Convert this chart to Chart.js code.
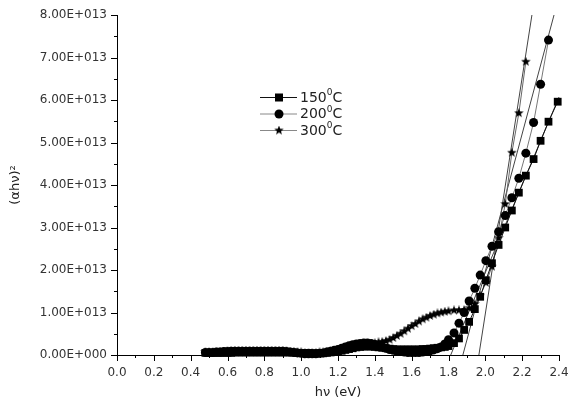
<!DOCTYPE html>
<html>
<head>
<meta charset="utf-8">
<script src="https://cdn.jsdelivr.net/npm/chart.js@4.4.1/dist/chart.umd.min.js"></script>
<style>
html, body { margin: 0; padding: 0; background: #fff; }
#wrap { width: 569px; height: 408px; }
</style>
</head>
<body>
<div id="wrap"><canvas id="chart" width="569" height="408"></canvas></div>
<script>
// photon energy hv (eV), shared by the three films
const energy = [
  0.48, 0.50, 0.52, 0.54, 0.56, 0.58, 0.60, 0.62, 0.64, 0.66,
  0.68, 0.70, 0.72, 0.74, 0.76, 0.78, 0.80, 0.82, 0.84, 0.86,
  0.88, 0.90, 0.92, 0.94, 0.96, 0.98, 1.00, 1.02, 1.04, 1.06,
  1.08, 1.10, 1.12, 1.14, 1.16, 1.18, 1.20, 1.22, 1.24, 1.26,
  1.28, 1.30, 1.32, 1.34, 1.36, 1.38, 1.40, 1.42, 1.44, 1.46,
  1.48, 1.50, 1.52, 1.54, 1.56, 1.58, 1.60, 1.62, 1.64, 1.66,
  1.68, 1.70, 1.72, 1.74, 1.76, 1.78,
  1.80, 1.83, 1.857, 1.885, 1.912, 1.943, 1.972, 2.003, 2.036, 2.072,
  2.108, 2.144, 2.182, 2.22, 2.262, 2.30, 2.343, 2.393
];

// (alpha h nu)^2 in units of 1E+013
const alpha150 = [
  0.05, 0.05, 0.05, 0.05, 0.05, 0.05, 0.05, 0.05, 0.06, 0.06,
  0.06, 0.06, 0.06, 0.06, 0.06, 0.06, 0.06, 0.06, 0.06, 0.06,
  0.06, 0.06, 0.06, 0.06, 0.06, 0.05, 0.05, 0.05, 0.05, 0.04,
  0.04, 0.04, 0.04, 0.05, 0.06, 0.07, 0.08, 0.10, 0.12, 0.14,
  0.16, 0.18, 0.19, 0.20, 0.20, 0.20, 0.19, 0.18, 0.17, 0.16,
  0.15, 0.14, 0.13, 0.13, 0.13, 0.13, 0.13, 0.13, 0.13, 0.14,
  0.14, 0.15, 0.16, 0.17, 0.18, 0.19,
  0.21, 0.28, 0.39, 0.59, 0.78, 1.08, 1.37, 1.76, 2.16, 2.59,
  3.00, 3.40, 3.82, 4.22, 4.61, 5.04, 5.49, 5.96
];
const alpha200 = [
  0.06, 0.06, 0.06, 0.07, 0.07, 0.08, 0.08, 0.09, 0.09, 0.09,
  0.09, 0.09, 0.09, 0.09, 0.09, 0.09, 0.09, 0.09, 0.09, 0.09,
  0.09, 0.09, 0.08, 0.07, 0.06, 0.05, 0.04, 0.03, 0.03, 0.03,
  0.03, 0.04, 0.05, 0.07, 0.09, 0.11, 0.13, 0.16, 0.19, 0.22,
  0.24, 0.26, 0.27, 0.28, 0.28, 0.27, 0.25, 0.22, 0.19, 0.16,
  0.13, 0.11, 0.09, 0.08, 0.07, 0.06, 0.06, 0.06, 0.06, 0.07,
  0.08, 0.10, 0.12, 0.15, 0.19, 0.26,
  0.36, 0.52, 0.75, 1.00, 1.27, 1.57, 1.88, 2.22, 2.56, 2.90,
  3.28, 3.70, 4.16, 4.75, 5.47, 6.37, 7.41, null
];
const alpha300 = [
  0.07, 0.07, 0.07, 0.07, 0.08, 0.08, 0.09, 0.09, 0.10, 0.10,
  0.10, 0.10, 0.10, 0.10, 0.10, 0.10, 0.10, 0.10, 0.10, 0.10,
  0.10, 0.10, 0.09, 0.08, 0.08, 0.07, 0.06, 0.05, 0.05, 0.05,
  0.05, 0.06, 0.07, 0.08, 0.09, 0.10, 0.11, 0.12, 0.13, 0.15,
  0.16, 0.18, 0.20, 0.22, 0.24, 0.26, 0.28, 0.30, 0.31, 0.33,
  0.36, 0.40, 0.45, 0.50, 0.56, 0.62, 0.68, 0.73, 0.79, 0.84,
  0.88, 0.92, 0.95, 0.98, 1.00, 1.02,
  1.03, 1.05, 1.05, 1.06, 1.10, 1.20, 1.40, 1.70, 2.08, 2.75,
  3.55, 4.76, 5.69, 6.90, null, null, null, null
];

// straight-line extrapolations (Tauc fits): [start, end]
const fitE150 = [1.812, 2.4];
const fitA150 = [0, 6.07];
const fitE200 = [1.878, 2.373];
const fitA200 = [0, 8];
const fitE300 = [1.965, 2.253];
const fitA300 = [0, 8];

const seriesLabels = ['150', '200', '300'];

const FONT = '"DejaVu Sans", Verdana, sans-serif';

// filled star marker
function makeStar(size) {
  const c = document.createElement('canvas');
  c.width = size; c.height = size;
  const g = c.getContext('2d');
  const cx = size / 2, cy = size / 2, ro = size / 2, ri = ro * 0.42;
  g.beginPath();
  for (let i = 0; i < 10; i++) {
    const r = i % 2 ? ri : ro;
    const a = -Math.PI / 2 + i * Math.PI / 5;
    g.lineTo(cx + r * Math.cos(a), cy + r * Math.sin(a));
  }
  g.closePath();
  g.fillStyle = '#000';
  g.fill();
  return c;
}
const starImg = makeStar(10);

const toPoints = (xs, ys) => xs.map((x, i) => ({ x: x, y: ys[i] }));

function series(label, vals, style, radius, lineColor) {
  return {
    label: label,
    data: toPoints(energy, vals),
    showLine: true,
    borderColor: lineColor,
    borderWidth: 1,
    pointStyle: style,
    pointRadius: radius,
    pointBackgroundColor: '#000',
    pointBorderColor: '#000',
    pointBorderWidth: 0,
    clip: false
  };
}
function fitLine(xs, ys) {
  return {
    label: '',
    data: toPoints(xs, ys),
    showLine: true,
    borderColor: '#444',
    borderWidth: 1,
    pointRadius: 0,
    clip: false
  };
}

// ticks with minor marks between majors
const axisTicks = {
  id: 'axisTicks',
  afterDraw(chart) {
    const { ctx, scales: { x, y } } = chart;
    ctx.save();
    ctx.strokeStyle = '#000';
    ctx.lineWidth = 1;
    ctx.beginPath();
    const xv = x.ticks.map(t => t.value);
    xv.forEach((v, i) => {
      const px = Math.round(x.getPixelForValue(v)) + 0.5;
      ctx.moveTo(px, x.top); ctx.lineTo(px, x.top + 6);
      if (i < xv.length - 1) {
        const mx = Math.round(x.getPixelForValue((v + xv[i + 1]) / 2)) + 0.5;
        ctx.moveTo(mx, x.top); ctx.lineTo(mx, x.top + 3);
      }
    });
    const yv = y.ticks.map(t => t.value);
    yv.forEach((v, i) => {
      const py = Math.round(y.getPixelForValue(v)) + 0.5;
      ctx.moveTo(y.right, py); ctx.lineTo(y.right - 6, py);
      if (i < yv.length - 1) {
        const my = Math.round(y.getPixelForValue((v + yv[i + 1]) / 2)) + 0.5;
        ctx.moveTo(y.right, my); ctx.lineTo(y.right - 3, my);
      }
    });
    ctx.stroke();
    ctx.restore();
  }
};

// legend drawn inside the plot
const innerLegend = {
  id: 'innerLegend',
  afterDraw(chart) {
    const ctx = chart.ctx;
    ctx.save();
    const styles = ['rect', 'circle', 'star'];
    const lineCols = ['#111', '#888', '#888'];
    seriesLabels.forEach((lab, i) => {
      const y = 97 + i * 16.5;
      ctx.strokeStyle = lineCols[i];
      ctx.lineWidth = 1;
      ctx.beginPath();
      ctx.moveTo(260, y + 0.5); ctx.lineTo(297, y + 0.5);
      ctx.stroke();
      ctx.fillStyle = '#000';
      const mx = 279;
      if (styles[i] === 'rect') ctx.fillRect(mx - 4, y - 3.5, 8, 8);
      else if (styles[i] === 'circle') { ctx.beginPath(); ctx.arc(mx, y + 0.5, 4.5, 0, Math.PI * 2); ctx.fill(); }
      else ctx.drawImage(starImg, mx - 5, y - 4.5);
      ctx.font = '14px ' + FONT;
      ctx.fillStyle = '#222';
      ctx.textBaseline = 'middle';
      let tx = 300;
      ctx.fillText(lab, tx, y + 1);
      tx += ctx.measureText(lab).width;
      ctx.font = '9px ' + FONT;
      ctx.fillText('0', tx, y - 4);
      tx += ctx.measureText('0').width;
      ctx.font = '14px ' + FONT;
      ctx.fillText('C', tx, y + 1);
    });
    ctx.restore();
  }
};

const tickFont = { family: FONT, size: 12 };

new Chart(document.getElementById('chart'), {
  type: 'scatter',
  data: {
    datasets: [
      series('150', alpha150, 'rect', 5.5, '#111'),
      series('200', alpha200, 'circle', 4.5, '#777'),
      series('300', alpha300, starImg, 5, '#666'),
      fitLine(fitE150, fitA150),
      fitLine(fitE200, fitA200),
      fitLine(fitE300, fitA300)
    ]
  },
  options: {
    responsive: false,
    animation: false,
    layout: { padding: { left: 0, right: 10, top: 15, bottom: 0 } },
    plugins: { legend: { display: false }, tooltip: { enabled: false } },
    elements: { line: { tension: 0 } },
    scales: {
      x: {
        type: 'linear',
        min: 0, max: 2.4,
        grid: { display: false, drawTicks: false },
        border: { display: true, color: '#000', width: 1 },
        ticks: {
          stepSize: 0.2,
          padding: 11,
          color: '#333',
          font: tickFont,
          maxRotation: 0,
          callback: v => v.toFixed(1)
        },
        title: {
          display: true,
          text: 'h\u03bd (eV)',
          color: '#222',
          font: { family: FONT, size: 13 },
          padding: { top: 0, bottom: 8 }
        },
        afterFit: s => { s.height = 53; s.paddingLeft = 0; s.paddingRight = 0; }
      },
      y: {
        type: 'linear',
        min: 0, max: 8,
        grid: { display: false, drawTicks: false },
        border: { display: true, color: '#000', width: 1 },
        ticks: {
          stepSize: 1,
          padding: 10,
          color: '#333',
          font: tickFont,
          callback: v => v === 0 ? '0.00E+000' : v.toFixed(2) + 'E+013'
        },
        title: {
          display: true,
          text: '(\u03b1h\u03bd)\u00b2',
          color: '#222',
          font: { family: FONT, size: 13 },
          padding: { top: 8, bottom: 0 }
        },
        afterFit: s => { s.width = 117; s.paddingTop = 0; s.paddingBottom = 0; }
      }
    }
  },
  plugins: [axisTicks, innerLegend]
});
</script>
</body>
</html>
